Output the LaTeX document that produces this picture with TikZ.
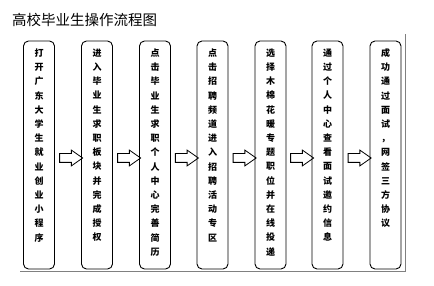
\documentclass[tikz,border=0pt]{standalone}
\usepackage{fontspec}
\newfontfamily\cjk{Noto Sans CJK SC}
\usetikzlibrary{shapes.arrows,calc}
\begin{document}
\begin{tikzpicture}[x=1pt,y=-1pt,
  box/.style={draw, rounded corners=5pt, line width=0.9pt, minimum width=31pt, minimum height=228pt, inner sep=0pt},
  vtext/.style={font=\cjk\bfseries\fontsize{9}{14.2}\selectfont, align=center, anchor=north, inner sep=0pt},
  blockarrow/.style={single arrow, draw, line width=0.8pt, minimum height=23pt, inner xsep=0pt, inner ysep=4pt, single arrow head extend=3.5pt, single arrow tip angle=70},
  frameline/.style={draw=gray, line width=0.8pt}]
\useasboundingbox (0,0) rectangle (434,286);
\node[font=\cjk\fontsize{14.5}{16}\selectfont, anchor=west, inner sep=0pt] (title) at (12,20) {高校毕业生操作流程图};
\node[box] (b1) at (39,155) {};
\node[box] (b2) at (97,155) {};
\node[box] (b3) at (155,155) {};
\node[box] (b4) at (212.5,155) {};
\node[box] (b5) at (270.5,155) {};
\node[box] (b6) at (327.5,155) {};
\node[box] (b7) at (385.5,155) {};
\node[vtext] (t1) at ([yshift=-8pt]b1.north) {打\\开\\广\\东\\大\\学\\生\\就\\业\\创\\业\\小\\程\\序};
\node[vtext] (t2) at ([yshift=-8pt]b2.north) {进\\入\\毕\\业\\生\\求\\职\\板\\块\\并\\完\\成\\授\\权};
\node[vtext] (t3) at ([yshift=-8pt]b3.north) {点\\击\\毕\\业\\生\\求\\职\\个\\人\\中\\心\\完\\善\\简\\历};
\node[vtext] (t4) at ([yshift=-8pt]b4.north) {点\\击\\招\\聘\\频\\道\\进\\入\\招\\聘\\活\\动\\专\\区};
\node[vtext] (t5) at ([yshift=-8pt]b5.north) {选\\择\\木\\棉\\花\\暖\\专\\题\\职\\位\\并\\在\\线\\投\\递};
\node[vtext] (t6) at ([yshift=-8pt]b6.north) {通\\过\\个\\人\\中\\心\\查\\看\\面\\试\\邀\\约\\信\\息};
\node[vtext] (t7) at ([yshift=-8pt]b7.north) {成\\功\\通\\过\\面\\试\\，\\网\\签\\三\\方\\协\\议};
\foreach \i/\j in {1/2,2/3,3/4,4/5,5/6,6/7}{
  \node[blockarrow] (a\i) at ([yshift=-3pt]$(b\i.east)!0.5!(b\j.west)$) {};
}
\coordinate (f1) at (20,271);
\coordinate (f2) at (405,271);
\coordinate (f3) at (405,34);
\draw[frameline] (f1) -- (f2) -- (f3);
\end{tikzpicture}
\end{document}
